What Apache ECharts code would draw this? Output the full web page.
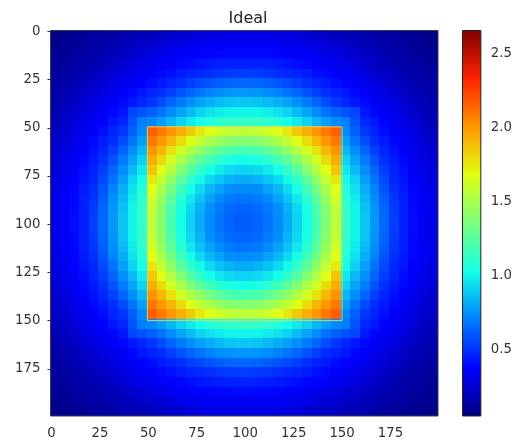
<!DOCTYPE html>
<html><head><meta charset="utf-8">
<style>html,body{margin:0;background:#fff}#c{width:515px;height:445px}</style>
<script src="https://cdn.jsdelivr.net/npm/echarts@6/dist/echarts.min.js"></script></head>
<body><div id="c"></div>
<script>
const titleText = 'Ideal';
const xTicks = [0,25,50,75,100,125,150,175];
const yTicks = [0,25,50,75,100,125,150,175];
const barTicks = [0.5,1.0,1.5,2.0,2.5];
const barRange = [0.047,2.656];
const axisRange = [-0.5,199.5];
const cellSize = 5;
const squareEdges = [49.5,150];
const jet = ['#00007f','#0000ff','#007fff','#14ffe9','#7bff7b','#e0ff14','#ff9700','#ff2200','#7f0000'];
// The picture is symmetric about both centre lines, so the other three quarters reuse these readings.
const quarterValues = [
[.07,.08,.095,.11,.12,.135,.15,.165,.18,.195,.21,.23,.245,.26,.28,.29,.30,.305,.31,.31],
[.08,.095,.11,.125,.14,.155,.175,.19,.21,.23,.25,.27,.29,.31,.32,.33,.34,.35,.35,.35],
[.095,.11,.125,.14,.16,.18,.195,.22,.245,.27,.295,.31,.33,.35,.355,.37,.38,.385,.39,.40],
[.11,.125,.14,.16,.18,.20,.23,.255,.285,.31,.33,.35,.365,.385,.405,.425,.44,.45,.455,.455],
[.12,.14,.16,.18,.20,.23,.26,.295,.32,.345,.36,.39,.415,.44,.46,.47,.49,.51,.52,.53],
[.135,.155,.18,.20,.23,.265,.30,.325,.35,.375,.405,.44,.465,.49,.53,.56,.59,.615,.63,.64],
[.15,.175,.195,.23,.26,.30,.33,.355,.385,.43,.46,.485,.535,.58,.63,.67,.71,.735,.75,.76],
[.165,.19,.22,.255,.295,.325,.355,.39,.43,.47,.51,.57,.63,.69,.74,.785,.82,.85,.87,.88],
[.18,.21,.245,.285,.32,.35,.385,.43,.55,.58,.62,.67,.735,.79,.85,.91,.95,.98,1.0,1.0],
[.195,.23,.27,.31,.345,.375,.43,.47,.58,.70,.72,.78,.84,.91,.97,1.02,1.07,1.10,1.12,1.13],
[.21,.25,.295,.33,.36,.405,.46,.51,.62,.72,2.16,2.09,2.01,1.93,1.85,1.75,1.67,1.62,1.58,1.56],
[.23,.27,.31,.35,.39,.44,.485,.57,.67,.78,2.09,2.0,1.90,1.79,1.67,1.58,1.51,1.44,1.40,1.38],
[.245,.29,.33,.365,.415,.465,.535,.63,.735,.84,2.01,1.90,1.77,1.63,1.53,1.42,1.33,1.26,1.21,1.19],
[.26,.31,.35,.385,.44,.49,.58,.69,.79,.91,1.93,1.79,1.63,1.51,1.38,1.26,1.17,1.09,1.05,1.03],
[.28,.32,.355,.405,.46,.53,.63,.74,.85,.97,1.85,1.67,1.53,1.38,1.24,1.12,1.03,.97,.93,.91],
[.29,.33,.37,.425,.47,.56,.67,.785,.91,1.02,1.75,1.58,1.42,1.26,1.12,1.01,.93,.87,.83,.81],
[.30,.34,.38,.44,.49,.59,.71,.82,.95,1.07,1.67,1.51,1.33,1.17,1.03,.93,.84,.79,.74,.73],
[.305,.35,.385,.45,.51,.615,.735,.85,.98,1.10,1.62,1.44,1.26,1.09,.97,.87,.79,.73,.69,.67],
[.31,.35,.39,.455,.52,.63,.75,.87,1.0,1.12,1.58,1.40,1.21,1.05,.93,.83,.74,.69,.65,.63],
[.31,.35,.40,.455,.53,.64,.76,.88,1.0,1.13,1.56,1.38,1.19,1.03,.91,.81,.73,.67,.63,.61]
];

const halfRows = quarterValues.map(r => r.concat(r.slice().reverse()));
const allRows = halfRows.concat(halfRows.slice().reverse());
const cells = [];
allRows.forEach((row,j) => row.forEach((v,i) => cells.push([i*cellSize+axisRange[0], j*cellSize+axisRange[0], v])));

const tickStyle = {show:true,length:4,lineStyle:{color:'#333',width:1}};
const labelStyle = {color:'#333',fontFamily:'DejaVu Sans',fontSize:13.3};
const chart = echarts.init(document.getElementById('c'),null,{renderer:'canvas'});
chart.setOption({
  animation:false,
  backgroundColor:'#fff',
  title:{text:titleText,left:243,top:6,textAlign:'center',textStyle:{fontFamily:'DejaVu Sans',fontWeight:'normal',fontSize:16,color:'#222'}},
  grid:[
    {left:50.5,top:30.5,width:387.5,height:385.5},
    {left:462.5,top:30.5,width:20.5,height:385.5}
  ],
  xAxis:[
    {type:'value',gridIndex:0,position:'bottom',min:axisRange[0],max:axisRange[1],splitLine:{show:false},axisLine:{show:false},
     axisTick:{...tickStyle,customValues:xTicks},axisLabel:{...labelStyle,margin:11,customValues:xTicks}},
    {type:'value',gridIndex:1,min:0,max:1,show:false}
  ],
  yAxis:[
    {type:'value',gridIndex:0,inverse:true,min:axisRange[0],max:axisRange[1],splitLine:{show:false},axisLine:{show:false},
     axisTick:{...tickStyle,customValues:yTicks},axisLabel:{...labelStyle,margin:10,customValues:yTicks}},
    {type:'value',gridIndex:1,position:'right',min:barRange[0],max:barRange[1],splitLine:{show:false},axisLine:{show:false},
     axisTick:{...tickStyle,customValues:barTicks},axisLabel:{...labelStyle,margin:10,customValues:barTicks,formatter:v=>v.toFixed(1)}}
  ],
  visualMap:{type:'continuous',show:false,seriesIndex:0,dimension:2,min:barRange[0],max:barRange[1],inRange:{color:jet}},
  series:[
    {type:'custom',xAxisIndex:0,yAxisIndex:0,coordinateSystem:'cartesian2d',clip:true,progressive:0,encode:{x:0,y:1},data:cells,
     renderItem(p,api){
       const a=api.coord([api.value(0),api.value(1)]),b=api.coord([api.value(0)+cellSize,api.value(1)+cellSize]);
       return {type:'rect',shape:{x:Math.floor(a[0]),y:Math.floor(a[1]),width:Math.ceil(b[0])-Math.floor(a[0]),height:Math.ceil(b[1])-Math.floor(a[1])},style:{fill:api.visual('color')}};
     }},
    {type:'custom',xAxisIndex:0,yAxisIndex:0,coordinateSystem:'cartesian2d',silent:true,z:5,encode:{x:[0,1],y:[0,1]},
     data:[[squareEdges[0],squareEdges[1]],[axisRange[0],axisRange[1]]],
     renderItem(p,api){
       const a=api.coord([api.value(0),api.value(0)]),b=api.coord([api.value(1),api.value(1)]);
       return {type:'rect',shape:{x:a[0],y:a[1],width:b[0]-a[0],height:b[1]-a[1]},style:{fill:'none',stroke:p.dataIndex===0?'rgba(190,225,130,0.9)':'#3a3a50',lineWidth:1}};
     }},
    {type:'custom',xAxisIndex:1,yAxisIndex:1,coordinateSystem:'cartesian2d',silent:true,encode:{x:[],y:[0,1]},data:[[barRange[0],barRange[1]]],
     renderItem(p,api){
       const a=api.coord([0,api.value(1)]),b=api.coord([1,api.value(0)]);
       return {type:'rect',shape:{x:a[0],y:a[1],width:b[0]-a[0],height:b[1]-a[1]},
         style:{fill:new echarts.graphic.LinearGradient(0,1,0,0,jet.map((c,i)=>({offset:i/(jet.length-1),color:c}))),stroke:'#222',lineWidth:1}};
     }}
  ]
});
</script></body></html>
